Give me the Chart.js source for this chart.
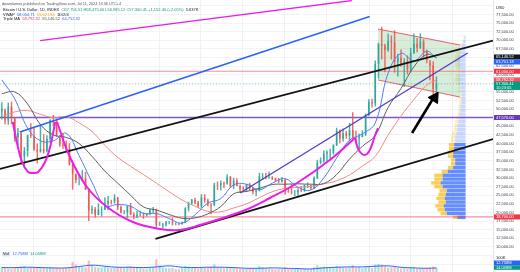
<!DOCTYPE html>
<html><head><meta charset="utf-8">
<script src="https://cdn.jsdelivr.net/npm/chart.js@4.4.1/dist/chart.umd.min.js"></script>
<style>html,body{margin:0;padding:0;background:#fff;overflow:hidden}canvas{display:block}</style>
</head><body>
<canvas id="c" width="520" height="272"></canvas>
<script>
// ---------- DATA (x = days since 5 Dec 2021, prices in USD thousands for candles) ----------
const firstWeekDay = 1;            // Mon 6 Dec 2021
const firstOpen = 49.4;
const closes = [50.1,46.7,50.8,47.3,
 41.8,43.1,36.3,37.9,42.4,42.2,38.3,37.7,38.4,37.8,41.3,46.8,46.4,42.2,39.7,39.4,38.5,34.0,31.3,29.4,29.4,29.9,26.6,20.6,21.0,19.3,20.8,20.8,22.6,23.3,23.2,24.3,21.5,20.0,20.0,21.8,19.4,18.8,19.3,19.4,19.2,19.6,20.6,20.9,16.3,16.3,16.5,17.1,17.1,16.8,16.8,16.6,
 17.2,21.2,22.7,23.7,22.9,21.8,24.3,23.5,22.4,22.1,28.0,27.9,28.5,28.3,30.3,27.6,29.2,27.7,26.9,26.8,28.1,27.1,25.9,26.3,30.5,30.6,30.2,30.3,29.9,29.3,29.0,29.4,26.1,26.0,25.8,25.8,26.5,26.3,27.9,27.9,27.1,30.0,34.5,35.0,37.1,37.4,37.4,39.5,43.8,41.4,43.0,42.3,
 43.9,41.7,41.6,42.0,42.6,48.3,52.1,51.7,63.1,68.9,68.4,67.2,69.7,69.4,63.7,64.9,63.1,63.9,61.5,66.3,69.0,67.8,69.6,66.6,64.3,62.7,55.9,57.3];
const highs = [51.9,49.5,51.8,52.1,
 47.5,44.4,43.5,38.9,42.5,45.8,44.7,39.9,45.3,42.6,42.3,47.0,48.2,47.2,42.4,42.9,40.8,40.0,34.3,31.0,30.6,32.2,31.7,26.8,21.9,21.5,22.5,21.6,24.3,24.7,23.6,25.2,24.4,21.9,20.6,21.9,22.7,19.9,20.4,20.5,19.9,19.7,21.0,21.5,21.0,17.2,16.8,17.4,17.4,18.4,17.0,16.9,
 17.2,21.4,23.0,23.8,24.2,23.3,25.2,25.2,23.9,22.6,28.5,28.9,29.2,28.8,31.0,30.5,30.0,29.8,28.0,27.5,28.2,28.5,27.3,26.8,31.4,31.3,31.4,31.8,30.4,30.0,29.9,30.2,29.7,26.8,28.1,26.4,26.9,27.5,28.0,28.6,27.9,30.4,35.2,35.9,37.9,37.9,38.4,39.7,44.5,44.0,44.3,43.6,
 45.9,49.0,43.6,42.8,43.8,48.6,52.8,52.9,64.0,69.2,73.8,68.9,71.8,71.3,72.8,66.0,67.2,64.7,65.5,67.7,71.9,70.6,71.9,70.2,67.2,63.4,63.8,59.4];
const lows = [47.1,45.6,45.6,45.7,
 40.6,39.6,34.0,32.9,36.3,41.7,38.0,34.3,37.5,37.2,37.6,40.5,45.2,42.1,39.2,38.6,37.7,33.7,26.7,28.6,28.0,29.2,26.6,17.6,19.6,18.6,19.3,18.9,20.8,20.7,22.4,22.7,20.8,19.8,19.6,18.5,19.3,18.1,18.5,19.0,18.2,18.9,19.3,20.0,15.6,16.2,15.5,16.0,16.7,16.3,16.4,16.4,
 16.6,17.1,20.4,22.3,22.5,21.4,21.4,22.9,21.9,19.6,21.9,26.6,26.5,27.2,28.2,27.2,26.9,27.7,25.8,26.4,26.0,26.5,25.3,24.8,26.2,29.5,29.7,29.9,29.5,29.0,28.6,28.8,25.2,25.8,25.3,24.9,24.9,26.0,26.1,27.2,26.6,26.9,29.8,34.1,34.5,34.8,35.6,36.9,39.4,40.2,40.6,41.5,
 40.7,41.5,40.3,38.5,41.9,42.3,48.1,50.6,50.9,59.0,64.5,60.8,66.8,64.5,60.7,59.6,62.4,56.5,60.2,60.7,66.1,66.6,67.6,65.1,63.4,58.4,53.5,54.3];
const volumes = [14,13,11,10,
 12,13,16,17,12,13,12,14,15,12,11,13,12,12,11,11,12,14,30,22,16,15,14,34,20,15,14,13,16,14,12,13,15,13,12,16,17,14,12,11,11,10,13,14,38,20,14,12,11,12,9,8,
 12,18,16,13,12,11,14,13,12,16,22,15,12,11,14,13,12,11,10,9,9,10,11,10,18,14,11,10,9,8,8,9,14,10,9,9,9,9,10,9,9,14,20,15,16,14,12,12,18,15,13,12,
 14,20,13,14,11,15,16,12,22,24,22,18,13,14,17,13,11,14,11,12,13,10,11,10,10,13,16,12];
// moving averages sampled every 4 weeks (week index) + last week
const maWeeks = [0,4,8,12,16,20,24,28,32,36,40,44,48,52,56,60,64,68,72,76,80,84,88,92,96,100,104,108,112,116,120,124,128,132,135];
const ma50  = [58.5,53.0,44.5,40.8,40.8,43.0,36.5,28.8,22.0,22.3,21.8,19.7,19.7,18.2,16.9,19.3,22.7,24.0,28.0,28.2,26.6,28.5,29.8,27.3,26.5,30.0,35.8,41.0,42.8,46.0,60.5,66.2,64.0,66.8,64.8];
const ma100 = [54.5,55.0,51.5,45.5,42.5,41.8,40.0,36.3,32.0,28.5,25.0,21.6,20.7,19.4,18.3,18.4,19.6,21.7,25.4,26.1,27.0,28.1,28.2,28.3,28.2,28.4,31.0,35.5,39.2,42.4,50.5,56.0,62.3,65.9,65.0];
const ma200 = [47.8,49.2,49.6,48.5,47.5,47.8,46.0,43.5,39.5,36.0,33.4,31.0,28.5,26.0,23.6,21.8,20.3,20.2,21.3,22.5,24.3,26.0,27.0,27.3,27.6,28.3,29.2,30.9,33.5,36.3,42.5,48.0,52.8,57.0,58.5];
const volMA = [13,13,14,13,12,12,16,20,17,14,14,13,15,18,14,13,14,14,13,11,11,12,11,10,9,12,14,15,15,17,18,14,12,11,12];
// volume profile: bins of 1,250 USD from 15,000
const vpStart = 15000, vpStep = 1250, vpStrongBins = 20;
const vpUp   = [8,18,20,21,19,20,19,18,22,24,22,22,17,12,10,10,12,12,11,11,10,10,9,8,8,7,6,6,5,5,4,4,4,5,5,6,7,6,5,6,7,8,7,6,5,4,2,1];
const vpDown = [4,6,7,8,7,8,7,7,8,9,8,8,6,5,4,4,5,5,5,5,4,4,4,3,3,3,3,2,2,2,2,2,2,2,2,2,3,3,2,3,3,3,3,3,2,2,1,1];
// drawings: [day, price USD]
const magentaTop   = [[87,69900],[765,81530]];
const blueTrend    = [[43,43370],[804,76900]];
const blackUpper   = [[0,32620],[1072,69910]];
const blackLower   = [[338,12300],[1072,41330]];
const purpleTrend  = [[522,25650],[1017,66310]];
const cupLeft  = [[28,46270],[37,40170],[48,34650],[61,31740],[72,31450],[83,31740],[98,34650],[109,39000],[120,46270]];
const cupBig   = [[124,46270],[152,36100],[189,27390],[233,21580],[289,17220],[348,15190],[391,14900],[435,16350],[528,20420],[587,24190],[646,28550],[717,35230],[772,41620]];
const cupHandle= [[772,41620],[778,38720],[787,36970],[798,36970],[807,39000],[815,42200],[822,44520]];
const boxTop    = [[822,73280],[1000,68630]];
const boxBottom = [[822,58470],[1000,53530]];
const arrowLine = [[896,43070],[944,53600]];
const arrowHead = [[945,53300]];
const redLevelHigh = 61000, purpleLevel = 47570, redLevelLow = 18700, lastPrice = 57300;
const gridDays = [27,117,208,300,392,482,573,665,757,848,939,1031];
const yMin = 2700, yMax = 81700, yStep = 2500, dayMax = 1072;
const axisTags = [
 {v:65150, bg:'#131722', fg:'#fff', t:'65,146.52'},
 {v:63700, bg:'#2962ff', fg:'#fff', t:'63,701.18'},
 {v:61000, bg:'#f23645', fg:'#fff', t:'61,000.00'},
 {v:58500, bg:'#f7525f', fg:'#fff', t:'58,792.32'},
 {v:57300, bg:'#089981', fg:'#fff', t:'57,300.41'},
 {v:56300, bg:'#089981', fg:'#fff', t:'10:23:05'},
 {v:47570, bg:'#673ab7', fg:'#fff', t:'47,570.00'},
 {v:18700, bg:'#f23645', fg:'#fff', t:'18,700.00'}
];

// ---------- BUILD ----------
const wx = i => firstWeekDay + 7*i + 3;
const opens = closes.map((c,i) => i === 0 ? firstOpen : closes[i-1]);
const up = i => closes[i] >= opens[i];
const K = v => v*1000;
const pts = arr => arr.map(p => ({x:p[0], y:p[1]}));
const maPts = arr => arr.map((v,k) => ({x: wx(maWeeks[k]), y: K(v)}));
const UPC = 'rgba(38,166,154,0.85)', DNC = 'rgba(239,83,80,0.85)';
const line = (data, color, width, order, extra) => Object.assign({type:'line', data: pts(data), borderColor: color, borderWidth: width, pointRadius: 0, order, tension: 0, xAxisID:'x', yAxisID:'y'}, extra||{});
const hline = (v, color, width, order, extra) => Object.assign({type:'line', data:[{x:0,y:v},{x:dayMax,y:v}], borderColor: color, borderWidth: width, pointRadius:0, order, xAxisID:'x', yAxisID:'y'}, extra||{});

const datasets = [
 line(arrowLine, '#000', 2.6, 0),
 {type:'scatter', data: pts(arrowHead), pointStyle:'triangle', rotation: 33, pointRadius: 6.5, backgroundColor:'#000', borderColor:'#000', borderWidth:1, order:0, xAxisID:'x', yAxisID:'y'},
 line(cupLeft, '#e91ee8', 2, 1, {tension:0.4}),
 line(cupBig, '#e91ee8', 2, 1, {tension:0.4}),
 line(cupHandle, '#e91ee8', 2, 1, {tension:0.4}),
 line(magentaTop, '#e91ee8', 1.4, 1),
 line(blackUpper, '#131313', 1.8, 2),
 line(blackLower, '#131313', 1.8, 2),
 line(blueTrend, '#2962ff', 1.5, 2),
 line(purpleTrend, '#5b3cc4', 1.4, 2),
 {type:'line', data: maPts(ma50), borderColor:'#4f7ff0', borderWidth:1, pointRadius:0, tension:0.4, order:3, xAxisID:'x', yAxisID:'y'},
 {type:'line', data: maPts(ma100), borderColor:'#5e5e5e', borderWidth:1, pointRadius:0, tension:0.4, order:3, xAxisID:'x', yAxisID:'y'},
 {type:'line', data: maPts(ma200), borderColor:'#f38a84', borderWidth:1, pointRadius:0, tension:0.4, order:3, xAxisID:'x', yAxisID:'y'},
 {type:'bar', grouped:false, data: closes.map((c,i)=>({x:wx(i), y:[K(opens[i]), K(c)]})), backgroundColor: closes.map((c,i)=> up(i)?UPC:DNC), barPercentage:0.5, categoryPercentage:1, order:4, xAxisID:'x', yAxisID:'y'},
 {type:'bar', grouped:false, data: closes.map((c,i)=>({x:wx(i), y:[K(lows[i]), K(highs[i])]})), backgroundColor: closes.map((c,i)=> up(i)?UPC:DNC), barThickness:0.8, order:5, xAxisID:'x', yAxisID:'y'},
 hline(redLevelHigh, 'rgba(242,54,69,0.55)', 1.2, 6),
 hline(redLevelLow, 'rgba(242,54,69,0.55)', 1.2, 6),
 hline(purpleLevel, '#7e57c2', 1.4, 6),
 hline(lastPrice, 'rgba(8,153,129,0.5)', 0.8, 6, {borderDash:[1,2]}),
 line(boxTop, 'rgba(242,54,69,0.8)', 1, 7, {fill:'+1', backgroundColor:'rgba(76,175,80,0.22)'}),
 line(boxBottom, 'rgba(242,54,69,0.8)', 1, 7),
 {type:'bar', grouped:false, indexAxis:'y', xAxisID:'xvp', yAxisID:'yvp', data: vpUp.map((b,i)=>({y: vpStart + vpStep*(i+0.5), x:[0,b]})),
  backgroundColor: vpUp.map((b,i)=> i < vpStrongBins ? 'rgba(41,98,255,0.72)' : 'rgba(41,98,255,0.25)'), barPercentage:0.9, categoryPercentage:1, order:9},
 {type:'bar', grouped:false, indexAxis:'y', xAxisID:'xvp', yAxisID:'yvp', data: vpDown.map((d,i)=>({y: vpStart + vpStep*(i+0.5), x:[vpUp[i], vpUp[i]+d]})),
  backgroundColor: vpDown.map((d,i)=> i < vpStrongBins ? 'rgba(251,192,45,0.8)' : 'rgba(251,192,45,0.32)'), barPercentage:0.9, categoryPercentage:1, order:9},
 {type:'line', data: volMA.map((v,k)=>({x:wx(maWeeks[k]), y:v})), borderColor:'#2962ff', borderWidth:1, pointRadius:0, tension:0.4, order:9.5, xAxisID:'x', yAxisID:'yv'},
 {type:'bar', grouped:false, data: volumes.map((v,i)=>({x:wx(i), y:v})), backgroundColor: volumes.map((v,i)=> up(i)?'rgba(38,166,154,0.38)':'rgba(239,83,80,0.38)'), barPercentage:0.7, categoryPercentage:1, order:10, xAxisID:'x', yAxisID:'yv'}
];

const fmt = v => v.toLocaleString('en-US',{minimumFractionDigits:2, maximumFractionDigits:2});
const FONT = '"Liberation Sans", Arial, sans-serif';

const overlay = {
 id:'overlay',
 afterDraw(chart){
  const ctx = chart.ctx, ys = chart.scales.y, right = chart.chartArea.right;
  ctx.save();
  ctx.textBaseline = 'middle';
  ctx.font = '4px ' + FONT;
  axisTags.forEach(tag => {
   const py = ys.getPixelForValue(tag.v);
   ctx.fillStyle = tag.bg; ctx.fillRect(right+1, py-2.5, 26, 5);
   ctx.fillStyle = tag.fg; ctx.fillText(tag.t, right+3, py+0.2);
  });
  ctx.fillStyle = '#131722'; ctx.fillText('USD', right+3, 8);
  ctx.fillText('100K', right+3, 258);
  ctx.fillStyle = '#2962ff'; ctx.fillRect(right+1, 260.5, 26, 4.6);
  ctx.fillStyle = '#089981'; ctx.fillRect(right+1, 265.2, 26, 4.6);
  ctx.fillStyle = '#fff'; ctx.fillText('12.758M', right+3, 262.9); ctx.fillText('14.058M', right+3, 267.6);
  const seg = (parts, x, y) => { parts.forEach(p => { ctx.fillStyle = p[1]; ctx.fillText(p[0], x, y); x += ctx.measureText(p[0]).width; }); };
  ctx.font = '3.8px ' + FONT;
  seg([['dowmlamos published on TradingView.com, Jul 11, 2024 13:36 UTC+4', '#555']], 2, 3.5);
  ctx.font = '4px ' + FONT;
  seg([['Bitcoin / U.S. Dollar, 1D, INDEX  ', '#131722'], ['O57,756.51 H58,475.00 L56,985.12 C57,300.41 +1,152.40 (+2.05%)', '#089981'], ['  5.637K', '#131722']], 3, 10);
  seg([['VWAP  ', '#131722'], ['58,054.71', '#2962ff'], ['  55,621.84', '#f7a21b'], ['  1D/2/4', '#131722']], 3, 14.5);
  seg([['Triple MA  ', '#131722'], ['58,792.32', '#f23645'], ['  65,146.52', '#555'], ['  64,752.32', '#2962ff']], 3, 19);
  ctx.fillStyle = '#e0e3eb'; ctx.fillRect(2, 252, 8, 4.4);
  ctx.fillStyle = '#131722'; ctx.fillText('Vol', 3, 254.3);
  seg([['  12.758M', '#2962ff'], ['  14.058M', '#089981']], 10, 254.3);
  ctx.restore();
 }
};

new Chart(document.getElementById('c'), {
 type:'bar',
 data:{datasets},
 options:{
  responsive:false, animation:false, devicePixelRatio:1, events:[],
  layout:{padding:0, autoPadding:false},
  plugins:{legend:{display:false}, tooltip:{enabled:false}, title:{display:false}},
  scales:{
   x:{type:'linear', min:0, max:dayMax, offset:false,
      afterBuildTicks: s => { s.ticks = gridDays.map(v => ({value:v})); },
      afterFit: s => { s.height = 0; s.paddingLeft = 0; s.paddingRight = 0; },
      ticks:{display:false}, grid:{color:'#eef1f6', drawTicks:false}, border:{display:false}},
   y:{type:'linear', position:'right', min:yMin, max:yMax,
      afterBuildTicks: s => { const t=[]; for (let v = Math.ceil(yMin/yStep)*yStep; v <= yMax; v += yStep) t.push({value:v}); s.ticks = t; },
      afterFit: s => { s.width = 27; s.paddingTop = 0; s.paddingBottom = 0; },
      ticks:{font:{size:4, family:FONT}, color:'#3a3e48', padding:3, crossAlign:'near', autoSkip:false,
        callback: v => (v >= 10000 && v <= 77500) ? fmt(v) : ''},
      grid:{color:'#f1f3f7', drawTicks:false}, border:{color:'#e0e3eb'}},
   yv:{type:'linear', min:0, max:800, display:false},
   xvp:{type:'linear', min:0, max:420, reverse:true, display:false},
   yvp:{type:'linear', min:yMin, max:yMax, display:false}
  }
 },
 plugins:[overlay]
});
</script>
</body></html>
